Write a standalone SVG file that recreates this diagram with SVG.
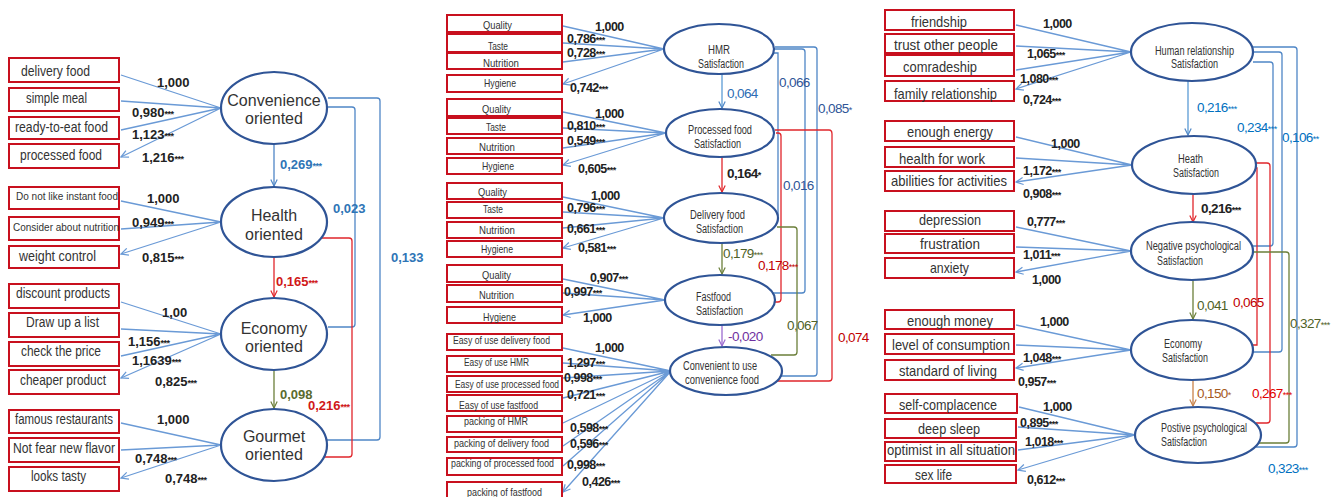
<svg xmlns="http://www.w3.org/2000/svg" width="1332" height="497" viewBox="0 0 1332 497">
<style>
.box{fill:#fff;stroke:#C8101E;stroke-width:2}
.ell{fill:#fff;stroke:#2F5496;stroke-width:2.2}
.ind{fill:none;stroke:#6A9AD6;stroke-width:1.3;marker-end:url(#aL)}
.bt{font-family:"Liberation Sans",Arial,sans-serif;fill:#333}
.lb1{font-size:14px}
.lb2{font-size:11px}
.lb3{font-size:15px}
.et{font-family:"Liberation Sans",Arial,sans-serif;fill:#333}
.e1{font-size:16px;text-anchor:middle}
.e2{font-size:12px}
.num{font-family:"Liberation Sans",Arial,sans-serif;font-weight:bold;font-size:13px;fill:#222}
.num2{font-family:"Liberation Sans",Arial,sans-serif;font-weight:bold;font-size:12.5px;letter-spacing:-0.5px;fill:#222}
.nn{font-family:"Liberation Sans",Arial,sans-serif;font-size:13.5px;letter-spacing:-0.6px}
.st{font-size:9px;letter-spacing:-0.5px}
.cB{fill:none;stroke:#4F86C6;stroke-width:1.3}
.cR{fill:none;stroke:#E0262B;stroke-width:1.3}
.cG{fill:none;stroke:#6B7F3A;stroke-width:1.3}
</style>
<defs>
<marker id="aL" viewBox="0 0 10 10" refX="9" refY="5" markerWidth="9" markerHeight="9" markerUnits="userSpaceOnUse" orient="auto"><path d="M1,1 L9,5 L1,9" fill="none" stroke="#6A9AD6" stroke-width="1.4"/></marker>
<marker id="aB" viewBox="0 0 10 10" refX="9" refY="5" markerWidth="8" markerHeight="8" markerUnits="userSpaceOnUse" orient="auto"><path d="M1,1 L9,5 L1,9" fill="none" stroke="#4F86C6" stroke-width="1.5"/></marker>
<marker id="aR" viewBox="0 0 10 10" refX="9" refY="5" markerWidth="8" markerHeight="8" markerUnits="userSpaceOnUse" orient="auto"><path d="M1,1 L9,5 L1,9" fill="none" stroke="#E0262B" stroke-width="1.5"/></marker>
<marker id="aG" viewBox="0 0 10 10" refX="9" refY="5" markerWidth="8" markerHeight="8" markerUnits="userSpaceOnUse" orient="auto"><path d="M1,1 L9,5 L1,9" fill="none" stroke="#6B7F3A" stroke-width="1.5"/></marker>
<marker id="aP" viewBox="0 0 10 10" refX="9" refY="5" markerWidth="8" markerHeight="8" markerUnits="userSpaceOnUse" orient="auto"><path d="M1,1 L9,5 L1,9" fill="none" stroke="#9B6BD0" stroke-width="1.5"/></marker>
<marker id="aO" viewBox="0 0 10 10" refX="9" refY="5" markerWidth="8" markerHeight="8" markerUnits="userSpaceOnUse" orient="auto"><path d="M1,1 L9,5 L1,9" fill="none" stroke="#C8824A" stroke-width="1.5"/></marker>
</defs>

<g id="connectors">
<path class="ind" d="M221,108 L121,75 M221,108 L121,101 M221,108 L121,130 M221,108 L121,157"/>
<path class="ind" d="M221,222 L121,201 M221,222 L121,229 M221,222 L121,254"/>
<path class="ind" d="M221,334 L121,302 M221,334 L121,329 M221,334 L121,356 M221,334 L121,378"/>
<path class="ind" d="M221,445 L121,423 M221,445 L121,450 M221,445 L121,478"/>
<line x1="274" y1="144" x2="274" y2="186" stroke="#4F86C6" stroke-width="1.3" marker-end="url(#aB)"/>
<line x1="274" y1="258" x2="274" y2="297" stroke="#E0262B" stroke-width="1.3" marker-end="url(#aR)"/>
<line x1="274" y1="370" x2="274" y2="408" stroke="#6B7F3A" stroke-width="1.3" marker-end="url(#aG)"/>
<path class="cB" d="M328,107 H352 Q355,107 355,110 V324 Q355,327 352,327 H328"/>
<path class="cB" d="M328,98 H377 Q380,98 380,101 V437 Q380,440 377,440 H327"/>
<path class="cR" d="M321,238 H349 Q352,238 352,241 V454 Q352,457 349,457 H324"/>

<path class="ind" d="M664,49 L563,26 M664,49 L563,43 M664,49 L563,62 M664,49 L563,84"/>
<path class="ind" d="M666,133 L563,112 M666,133 L563,128 M666,133 L563,148 M666,133 L563,165"/>
<path class="ind" d="M664,218 L563,197 M664,218 L563,212 M664,218 L563,228 M664,218 L563,248"/>
<path class="ind" d="M665,300 L563,279 M665,300 L563,293 M665,300 L563,315"/>
<path class="ind" d="M671,371 L563,348 M671,371 L563,363 M671,371 L563,378 M671,371 L563,398 M671,371 L563,423 M671,371 L563,446 M671,371 L563,466 M671,371 L563,492"/>
<line x1="722" y1="74" x2="722" y2="108" stroke="#5B9BD5" stroke-width="1.3" marker-end="url(#aB)"/>
<line x1="722" y1="157" x2="722" y2="192" stroke="#E0262B" stroke-width="1.3" marker-end="url(#aR)"/>
<line x1="722" y1="243" x2="722" y2="274" stroke="#6B7F3A" stroke-width="1.3" marker-end="url(#aG)"/>
<line x1="722" y1="325" x2="722" y2="346" stroke="#9B6BD0" stroke-width="1.3" marker-end="url(#aP)"/>
<path class="cB" d="M774,53 H778 V215 H776"/>
<path class="cB" d="M775,49 H802 Q805,49 805,52 V290 Q805,293 802,293 H773"/>
<path class="cB" d="M775,47 H814 Q817,47 817,50 V373 Q817,376 814,376 H781"/>
<path class="cR" d="M776,133 H778 Q781,133 781,136 V299 Q781,302 778,302 H775"/>
<path class="cR" d="M775,130 H829 Q832,130 832,134 V378 Q832,381 829,381 H776"/>
<path class="cG" d="M777,227 H794 Q797,227 797,230 V352 Q797,355 794,355 H771"/>

<path class="ind" d="M1131,52 L1016,25 M1131,52 L1016,46 M1131,52 L1016,70 M1131,52 L1016,89"/>
<path class="ind" d="M1132,165 L1016,137 M1132,165 L1016,158 M1132,165 L1016,182"/>
<path class="ind" d="M1131,251 L1016,227 M1131,251 L1016,247 M1131,251 L1016,272"/>
<path class="ind" d="M1131,350 L1016,325 M1131,350 L1016,345 M1131,350 L1016,368"/>
<path class="ind" d="M1135,435 L1019,407 M1135,435 L1018,427 M1135,435 L1018,450 M1135,435 L1018,470"/>
<line x1="1188" y1="81" x2="1188" y2="135" stroke="#5B9BD5" stroke-width="1.3" marker-end="url(#aB)"/>
<line x1="1193" y1="194" x2="1193" y2="222" stroke="#E0262B" stroke-width="1.3" marker-end="url(#aR)"/>
<line x1="1193" y1="280" x2="1193" y2="319" stroke="#6B7F3A" stroke-width="1.3" marker-end="url(#aG)"/>
<line x1="1193" y1="380" x2="1193" y2="406" stroke="#C8824A" stroke-width="1.3" marker-end="url(#aO)"/>
<path class="cB" d="M1253,62 H1270 Q1273,62 1273,65 V243 Q1273,246 1270,246 H1252"/>
<path class="cB" d="M1253,52 H1279 Q1282,52 1282,55 V349 Q1282,352 1279,352 H1253"/>
<path class="cB" d="M1252,47 H1294 Q1297,47 1297,50 V444 Q1297,447 1294,447 H1256"/>
<path class="cR" d="M1255,168 H1257 V345 H1253"/>
<path class="cR" d="M1255,163 H1267 Q1270,163 1270,166 V420 Q1270,423 1267,423 H1256"/>
<path class="cG" d="M1253,252 H1286 Q1289,252 1289,255 V440 Q1289,443 1286,443 H1256"/>
</g>

<g id="left-boxes" class="bt lb1">
<rect class="box" x="9" y="58" width="110" height="24"/><text x="21" y="76" textLength="69" lengthAdjust="spacingAndGlyphs">delivery food</text>
<rect class="box" x="9" y="88" width="110" height="23"/><text x="26" y="103" textLength="61" lengthAdjust="spacingAndGlyphs">simple meal</text>
<rect class="box" x="9" y="117" width="110" height="22"/><text x="15" y="132" textLength="93" lengthAdjust="spacingAndGlyphs">ready-to-eat food</text>
<rect class="box" x="9" y="144" width="110" height="24"/><text x="20" y="160" textLength="82" lengthAdjust="spacingAndGlyphs">processed food</text>
<rect class="box" x="9" y="187" width="110" height="22"/><text x="16" y="200" font-size="11" textLength="102" lengthAdjust="spacingAndGlyphs">Do not like instant food</text>
<rect class="box" x="9" y="217" width="110" height="23"/><text x="13" y="231" font-size="11" textLength="106" lengthAdjust="spacingAndGlyphs">Consider about nutrition</text>
<rect class="box" x="9" y="246" width="110" height="22"/><text x="19" y="261" textLength="77" lengthAdjust="spacingAndGlyphs">weight control</text>
<rect class="box" x="9" y="284" width="110" height="24"/><text x="16" y="298" textLength="94" lengthAdjust="spacingAndGlyphs">discount products</text>
<rect class="box" x="9" y="313" width="110" height="24"/><text x="26" y="327" textLength="73" lengthAdjust="spacingAndGlyphs">Draw up a list</text>
<rect class="box" x="9" y="342" width="110" height="24"/><text x="21" y="356" textLength="80" lengthAdjust="spacingAndGlyphs">check the price</text>
<rect class="box" x="9" y="370" width="110" height="24"/><text x="20" y="385" textLength="86" lengthAdjust="spacingAndGlyphs">cheaper product</text>
<rect class="box" x="9" y="410" width="110" height="23"/><text x="15" y="424" textLength="98" lengthAdjust="spacingAndGlyphs">famous restaurants</text>
<rect class="box" x="9" y="438" width="110" height="24"/><text x="13" y="453" textLength="102" lengthAdjust="spacingAndGlyphs">Not fear new flavor</text>
<rect class="box" x="9" y="467" width="110" height="24"/><text x="31" y="481" textLength="55" lengthAdjust="spacingAndGlyphs">looks tasty</text>
</g>
<g id="convenience-oriented"><ellipse class="ell" cx="274" cy="108" rx="53" ry="36"/><text class="et e1" x="274" y="106">Convenience</text><text class="et e1" x="274" y="124">oriented</text></g>
<g id="health-oriented"><ellipse class="ell" cx="274" cy="222" rx="53" ry="35"/><text class="et e1" x="274" y="221">Health</text><text class="et e1" x="274" y="240">oriented</text></g>
<g id="economy-oriented"><ellipse class="ell" cx="274" cy="334" rx="53" ry="36"/><text class="et e1" x="274" y="334">Economy</text><text class="et e1" x="274" y="352">oriented</text></g>
<g id="gourmet-oriented"><ellipse class="ell" cx="274" cy="445" rx="53" ry="36"/><text class="et e1" x="274" y="442">Gourmet</text><text class="et e1" x="274" y="460">oriented</text></g>
<g id="left-labels" class="num">
<text x="157" y="87">1,000</text>
<text x="132" y="117">0,980<tspan class="st">***</tspan></text>
<text x="132" y="139">1,123<tspan class="st">***</tspan></text>
<text x="142" y="162">1,216<tspan class="st">***</tspan></text>
<text x="147" y="203">1,000</text>
<text x="132" y="227">0,949<tspan class="st">***</tspan></text>
<text x="142" y="262">0,815<tspan class="st">***</tspan></text>
<text x="162" y="317">1,00</text>
<text x="128" y="346">1,156<tspan class="st">***</tspan></text>
<text x="132" y="365">1,1639<tspan class="st">***</tspan></text>
<text x="155" y="386">0,825<tspan class="st">***</tspan></text>
<text x="157" y="424">1,000</text>
<text x="135" y="463">0,748<tspan class="st">***</tspan></text>
<text x="165" y="483">0,748<tspan class="st">***</tspan></text>
<text x="280" y="169" fill="#2E75B6">0,269<tspan class="st">***</tspan></text>
<text x="333" y="213" fill="#2E75B6">0,023</text>
<text x="391" y="262" fill="#2E75B6">0,133</text>
<text x="276" y="286" fill="#D01818">0,165<tspan class="st">***</tspan></text>
<text x="280" y="399" fill="#5A6B2E">0,098</text>
<text x="308" y="410" fill="#D01818">0,216<tspan class="st">***</tspan></text>
</g>

<g id="middle-boxes" class="bt lb2">
<rect class="box" x="447" y="15" width="115" height="17"/><text x="483" y="29" textLength="29" lengthAdjust="spacingAndGlyphs">Quality</text>
<rect class="box" x="447" y="34" width="115" height="18"/><text x="488" y="50" textLength="20" lengthAdjust="spacingAndGlyphs">Taste</text>
<rect class="box" x="447" y="53" width="115" height="16"/><text x="483" y="67" textLength="36" lengthAdjust="spacingAndGlyphs">Nutrition</text>
<rect class="box" x="447" y="75" width="115" height="17"/><text x="484" y="87" textLength="32" lengthAdjust="spacingAndGlyphs">Hygiene</text>
<rect class="box" x="447" y="99" width="115" height="17"/><text x="482" y="113" textLength="29" lengthAdjust="spacingAndGlyphs">Quality</text>
<rect class="box" x="447" y="118" width="115" height="16"/><text x="486" y="131" textLength="20" lengthAdjust="spacingAndGlyphs">Taste</text>
<rect class="box" x="447" y="138" width="115" height="16"/><text x="479" y="151" textLength="36" lengthAdjust="spacingAndGlyphs">Nutrition</text>
<rect class="box" x="447" y="158" width="115" height="16"/><text x="482" y="170" textLength="32" lengthAdjust="spacingAndGlyphs">Hygiene</text>
<rect class="box" x="447" y="183" width="115" height="16"/><text x="478" y="196" textLength="29" lengthAdjust="spacingAndGlyphs">Quality</text>
<rect class="box" x="447" y="202" width="115" height="16"/><text x="483" y="213" textLength="20" lengthAdjust="spacingAndGlyphs">Taste</text>
<rect class="box" x="447" y="222" width="115" height="16"/><text x="479" y="234" textLength="36" lengthAdjust="spacingAndGlyphs">Nutrition</text>
<rect class="box" x="447" y="241" width="115" height="16"/><text x="481" y="253" textLength="32" lengthAdjust="spacingAndGlyphs">Hygiene</text>
<rect class="box" x="447" y="265" width="115" height="17"/><text x="482" y="279" textLength="29" lengthAdjust="spacingAndGlyphs">Quality</text>
<rect class="box" x="447" y="285" width="115" height="17"/><text x="479" y="299" textLength="35" lengthAdjust="spacingAndGlyphs">Nutrition</text>
<rect class="box" x="447" y="307" width="115" height="16"/><text x="483" y="321" textLength="33" lengthAdjust="spacingAndGlyphs">Hygiene</text>
<rect class="box" x="447" y="334" width="115" height="16"/><text x="453" y="344" textLength="97" lengthAdjust="spacingAndGlyphs">Easy of use delivery food</text>
<rect class="box" x="447" y="356" width="115" height="16"/><text x="464" y="366" textLength="65" lengthAdjust="spacingAndGlyphs">Easy of use HMR</text>
<rect class="box" x="447" y="376" width="115" height="16"/><text x="455" y="388" textLength="104" lengthAdjust="spacingAndGlyphs">Easy of use processed food</text>
<rect class="box" x="447" y="395" width="115" height="16"/><text x="459" y="409" textLength="79" lengthAdjust="spacingAndGlyphs">Easy of use fastfood</text>
<rect class="box" x="447" y="416" width="115" height="16"/><text x="464" y="425" textLength="64" lengthAdjust="spacingAndGlyphs">packing of HMR</text>
<rect class="box" x="447" y="437" width="115" height="15"/><text x="454" y="447" textLength="95" lengthAdjust="spacingAndGlyphs">packing of delivery food</text>
<rect class="box" x="447" y="458" width="115" height="17"/><text x="451" y="467" textLength="103" lengthAdjust="spacingAndGlyphs">packing of processed food</text>
<rect class="box" x="447" y="482" width="115" height="17"/><text x="467" y="496" textLength="75" lengthAdjust="spacingAndGlyphs">packing of fastfood</text>
</g>
<g id="hmr-satisfaction"><ellipse class="ell" cx="719" cy="49" rx="55" ry="25"/><text class="et e2" x="708" y="54" textLength="22" lengthAdjust="spacingAndGlyphs">HMR</text><text class="et e2" x="698" y="68" textLength="46" lengthAdjust="spacingAndGlyphs">Satisfaction</text></g>
<g id="processed-food-satisfaction"><ellipse class="ell" cx="720" cy="133" rx="54" ry="24"/><text class="et e2" x="688" y="134" textLength="64" lengthAdjust="spacingAndGlyphs">Processed food</text><text class="et e2" x="694" y="148" textLength="47" lengthAdjust="spacingAndGlyphs">Satisfaction</text></g>
<g id="delivery-food-satisfaction"><ellipse class="ell" cx="721" cy="218" rx="57" ry="25"/><text class="et e2" x="690" y="219" textLength="55" lengthAdjust="spacingAndGlyphs">Delivery food</text><text class="et e2" x="696" y="233" textLength="47" lengthAdjust="spacingAndGlyphs">Satisfaction</text></g>
<g id="fastfood-satisfaction"><ellipse class="ell" cx="720" cy="300" rx="55" ry="25"/><text class="et e2" x="696" y="301" textLength="35" lengthAdjust="spacingAndGlyphs">Fastfood</text><text class="et e2" x="696" y="315" textLength="47" lengthAdjust="spacingAndGlyphs">Satisfaction</text></g>
<g id="convenient-to-use"><ellipse class="ell" cx="726" cy="371" rx="56" ry="24"/><text class="et e2" x="683" y="370" textLength="74" lengthAdjust="spacingAndGlyphs">Convenient to use</text><text class="et e2" x="685" y="384" textLength="74" lengthAdjust="spacingAndGlyphs">convenience food</text></g>
<g id="middle-labels" class="num2">
<text x="595" y="31">1,000</text>
<text x="567" y="43">0,786<tspan class="st">***</tspan></text>
<text x="567" y="57">0,728<tspan class="st">***</tspan></text>
<text x="570" y="92">0,742<tspan class="st">***</tspan></text>
<text x="595" y="118">1,000</text>
<text x="567" y="130">0,810<tspan class="st">***</tspan></text>
<text x="567" y="145">0,549<tspan class="st">***</tspan></text>
<text x="578" y="173">0,605<tspan class="st">***</tspan></text>
<text x="591" y="200">1,000</text>
<text x="567" y="212">0,796<tspan class="st">***</tspan></text>
<text x="567" y="233">0,661<tspan class="st">***</tspan></text>
<text x="578" y="252">0,581<tspan class="st">***</tspan></text>
<text x="590" y="282">0,907<tspan class="st">***</tspan></text>
<text x="564" y="296">0,997<tspan class="st">***</tspan></text>
<text x="583" y="322">1,000</text>
<text x="595" y="352">1,000</text>
<text x="567" y="367">1,297<tspan class="st">***</tspan></text>
<text x="564" y="382">0,998<tspan class="st">***</tspan></text>
<text x="567" y="399">0,721<tspan class="st">***</tspan></text>
<text x="570" y="432">0,598<tspan class="st">***</tspan></text>
<text x="570" y="448">0,596<tspan class="st">***</tspan></text>
<text x="567" y="469">0,998<tspan class="st">***</tspan></text>
<text x="582" y="486">0,426<tspan class="st">***</tspan></text>
</g>
<g id="middle-path-labels" class="nn">
<text x="727" y="98" fill="#2E6DB4">0,064</text>
<text x="727" y="178" fill="#222" font-weight="bold">0,164<tspan class="st">*</tspan></text>
<text x="779" y="87" fill="#2F5597">0,066</text>
<text x="818" y="113" fill="#2F5597">0,085<tspan class="st">*</tspan></text>
<text x="783" y="190" fill="#2F5597">0,016</text>
<text x="723" y="258" fill="#4F6228">0,179<tspan class="st">***</tspan></text>
<text x="758" y="270" fill="#C00000">0,178<tspan class="st">***</tspan></text>
<text x="787" y="330" fill="#4F6228">0,067</text>
<text x="728" y="341" fill="#7030A0">-0,020</text>
<text x="838" y="342" fill="#C00000">0,074</text>
</g>

<g id="right-boxes" class="bt lb3">
<rect class="box" x="885" y="10" width="129" height="20"/><text x="911" y="27" textLength="56" lengthAdjust="spacingAndGlyphs">friendship</text>
<rect class="box" x="885" y="34" width="129" height="19"/><text x="894" y="50" textLength="104" lengthAdjust="spacingAndGlyphs">trust other people</text>
<rect class="box" x="885" y="55" width="129" height="21"/><text x="903" y="72" textLength="74" lengthAdjust="spacingAndGlyphs">comradeship</text>
<rect class="box" x="885" y="81" width="129" height="20"/><text x="894" y="99" textLength="103" lengthAdjust="spacingAndGlyphs">family relationship</text>
<rect class="box" x="885" y="121" width="129" height="20"/><text x="907" y="137" textLength="86" lengthAdjust="spacingAndGlyphs">enough energy</text>
<rect class="box" x="885" y="147" width="129" height="20"/><text x="899" y="164" textLength="86" lengthAdjust="spacingAndGlyphs">health for work</text>
<rect class="box" x="885" y="171" width="129" height="20"/><text x="891" y="186" textLength="116" lengthAdjust="spacingAndGlyphs">abilities for activities</text>
<rect class="box" x="885" y="211" width="129" height="20"/><text x="919" y="225" textLength="62" lengthAdjust="spacingAndGlyphs">depression</text>
<rect class="box" x="885" y="234" width="129" height="19"/><text x="920" y="249" textLength="60" lengthAdjust="spacingAndGlyphs">frustration</text>
<rect class="box" x="885" y="258" width="129" height="20"/><text x="930" y="273" textLength="39" lengthAdjust="spacingAndGlyphs">anxiety</text>
<rect class="box" x="885" y="310" width="129" height="19"/><text x="907" y="326" textLength="86" lengthAdjust="spacingAndGlyphs">enough money</text>
<rect class="box" x="885" y="334" width="129" height="20"/><text x="892" y="350" textLength="118" lengthAdjust="spacingAndGlyphs">level of consumption</text>
<rect class="box" x="885" y="360" width="129" height="20"/><text x="899" y="376" textLength="98" lengthAdjust="spacingAndGlyphs">standard of living</text>
<rect class="box" x="885" y="394" width="132" height="19"/><text x="899" y="410" textLength="98" lengthAdjust="spacingAndGlyphs">self-complacence</text>
<rect class="box" x="885" y="419" width="131" height="19"/><text x="918" y="434" textLength="62" lengthAdjust="spacingAndGlyphs">deep sleep</text>
<rect class="box" x="885" y="442" width="131" height="19"/><text x="887" y="455" textLength="128" lengthAdjust="spacingAndGlyphs">optimist in all situation</text>
<rect class="box" x="885" y="465" width="131" height="18"/><text x="915" y="480" textLength="37" lengthAdjust="spacingAndGlyphs">sex life</text>
</g>
<g id="human-relationship-satisfaction"><ellipse class="ell" cx="1192" cy="52" rx="61" ry="29"/><text class="et e2" x="1155" y="55" textLength="79" lengthAdjust="spacingAndGlyphs">Human relationship</text><text class="et e2" x="1171" y="68" textLength="47" lengthAdjust="spacingAndGlyphs">Satisfaction</text></g>
<g id="heath-satisfaction"><ellipse class="ell" cx="1194" cy="165" rx="62" ry="29"/><text class="et e2" x="1178" y="163" textLength="25" lengthAdjust="spacingAndGlyphs">Heath</text><text class="et e2" x="1173" y="177" textLength="46" lengthAdjust="spacingAndGlyphs">Satisfaction</text></g>
<g id="negative-psychological-satisfaction"><ellipse class="ell" cx="1192" cy="251" rx="61" ry="29"/><text class="et e2" x="1146" y="250" textLength="95" lengthAdjust="spacingAndGlyphs">Negative psychological</text><text class="et e2" x="1157" y="265" textLength="46" lengthAdjust="spacingAndGlyphs">Satisfaction</text></g>
<g id="economy-satisfaction"><ellipse class="ell" cx="1192" cy="350" rx="61" ry="30"/><text class="et e2" x="1164" y="348" textLength="38" lengthAdjust="spacingAndGlyphs">Economy</text><text class="et e2" x="1162" y="362" textLength="46" lengthAdjust="spacingAndGlyphs">Satisfaction</text></g>
<g id="postive-psychological-satisfaction"><ellipse class="ell" cx="1198" cy="435" rx="63" ry="28"/><text class="et e2" x="1161" y="432" textLength="86" lengthAdjust="spacingAndGlyphs">Postive psychological</text><text class="et e2" x="1161" y="446" textLength="46" lengthAdjust="spacingAndGlyphs">Satisfaction</text></g>
<g id="right-labels" class="num2">
<text x="1043" y="28">1,000</text>
<text x="1027" y="58">1,065<tspan class="st">***</tspan></text>
<text x="1020" y="83">1,080<tspan class="st">***</tspan></text>
<text x="1023" y="104">0,724<tspan class="st">***</tspan></text>
<text x="1051" y="148">1,000</text>
<text x="1023" y="175">1,172<tspan class="st">***</tspan></text>
<text x="1023" y="198">0,908<tspan class="st">***</tspan></text>
<text x="1027" y="226">0,777<tspan class="st">***</tspan></text>
<text x="1023" y="259">1,011<tspan class="st">***</tspan></text>
<text x="1032" y="284">1,000</text>
<text x="1040" y="326">1,000</text>
<text x="1023" y="362">1,048<tspan class="st">***</tspan></text>
<text x="1018" y="386">0,957<tspan class="st">***</tspan></text>
<text x="1043" y="411">1,000</text>
<text x="1020" y="427">0,895<tspan class="st">***</tspan></text>
<text x="1025" y="446">1,018<tspan class="st">***</tspan></text>
<text x="1027" y="484">0,612<tspan class="st">***</tspan></text>
</g>
<g id="right-path-labels" class="nn">
<text x="1197" y="112" fill="#0070C0">0,216<tspan class="st">***</tspan></text>
<text x="1237" y="132" fill="#0070C0">0,234<tspan class="st">***</tspan></text>
<text x="1282" y="142" fill="#0070C0">0,106<tspan class="st">**</tspan></text>
<text x="1201" y="213" fill="#222" font-weight="bold">0,216<tspan class="st">***</tspan></text>
<text x="1197" y="310" fill="#4F6228">0,041</text>
<text x="1233" y="307" fill="#C00000">0,065</text>
<text x="1290" y="328" fill="#4F6228">0,327<tspan class="st">***</tspan></text>
<text x="1197" y="398" fill="#A65A1E">0,150<tspan class="st">*</tspan></text>
<text x="1252" y="398" fill="#E00000">0,267<tspan class="st">***</tspan></text>
<text x="1268" y="473" fill="#0070C0">0,323<tspan class="st">***</tspan></text>
</g>
</svg>
